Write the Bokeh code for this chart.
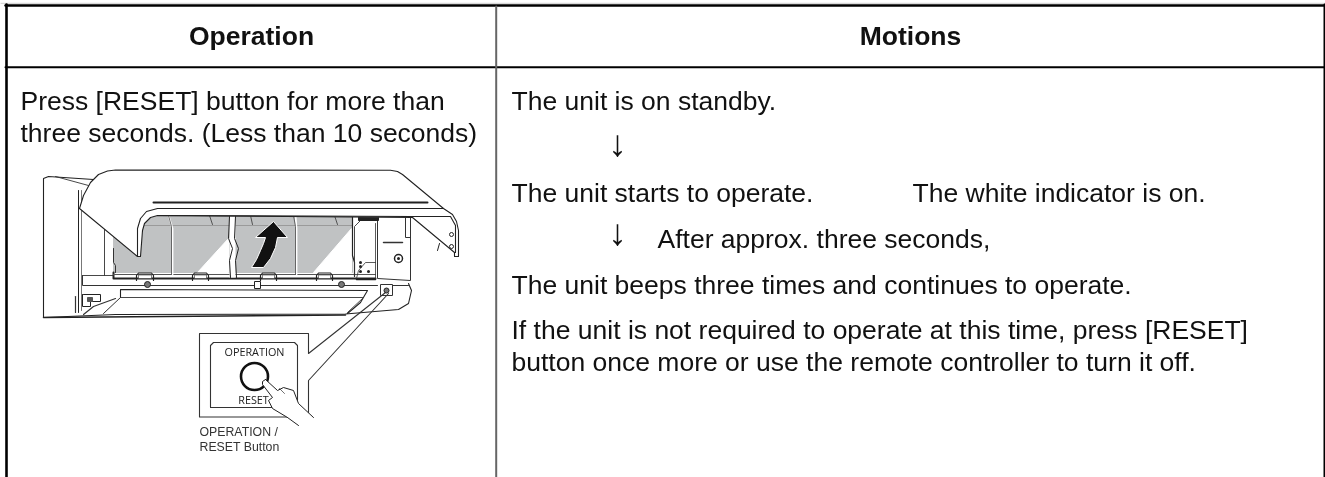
from bokeh.plotting import figure
from bokeh.models import Range1d
from bokeh.core.properties import value
from bokeh.embed import file_html
from bokeh.resources import INLINE

# ---------- table content ----------
header_labels = ["Operation", "Motions"]
operation_lines = ["Press [RESET] button for more than", "three seconds. (Less than 10 seconds)"]
motion_lines = [
    "The unit is on standby.",
    "The unit starts to operate.",
    "The white indicator is on.",
    "After approx. three seconds,",
    "The unit beeps three times and continues to operate.",
    "If the unit is not required to operate at this time, press [RESET]",
    "button once more or use the remote controller to turn it off.",
]
down_arrow = "\u2193"
caption_lines = ["OPERATION /", "RESET Button"]
panel_labels = ["OPERATION", "RESET"]

W, H = 1325, 477
p = figure(width=W, height=H, x_range=Range1d(0, W), y_range=Range1d(H, 0),
           output_backend="svg", toolbar_location=None, min_border=0,
           outline_line_color=None, background_fill_color="white",
           border_fill_color="white", x_axis_type=None, y_axis_type=None)
p.grid.visible = False
p.stylesheets = [":host{position:fixed !important;left:0;top:0;}"]

FONT = value("Liberation Sans")
INK = "#111111"
BODY = 26.5

def line(pts, color="#2a2a2a", w=1.0):
    p.line([a for a, _ in pts], [b for _, b in pts], line_color=color, line_width=w, line_join="round", line_cap="round")

def fill(pts, color, outline=None, w=1.0):
    p.patch([a for a, _ in pts], [b for _, b in pts], fill_color=color,
            line_color=outline if outline else color, line_width=w, line_join="round")

def txt(x, y, s, size=BODY, style="normal", align="left", color=INK, font=FONT):
    # the page draws this baseline about 0.36 em lower than the requested y
    p.text([x], [y - 0.36 * size], text=[s], text_font=font, text_font_size=f"{size}px", text_font_style=style,
           text_align=align, text_baseline="alphabetic", text_color=color)

# ---------- table rules ----------
line([(0, 2.8), (W, 2.8)], "#d0d0d0", 1)
line([(5, 5), (W, 5)], "#000000", 2.4)
line([(6, 4), (6, H)], "#000000", 2.6)
line([(1324, 4), (1324, H)], "#000000", 2)
line([(5, 66.7), (W, 66.7)], "#000000", 2)
line([(495.7, 6), (495.7, H)], "#666666", 2)

# ---------- table text ----------
txt(251, 45, header_labels[0], style="bold", align="center")
txt(910, 45, header_labels[1], style="bold", align="center")
txt(20, 110, operation_lines[0])
txt(20, 142, operation_lines[1])
txt(511, 110, motion_lines[0])
txt(511, 202.5, motion_lines[1])
txt(912, 202.5, motion_lines[2])
txt(657, 248, motion_lines[3])
txt(511, 294, motion_lines[4])
txt(511, 339, motion_lines[5])
txt(511, 371, motion_lines[6])
for y in (156.3, 245.3):
    txt(617, y, down_arrow, size=37, align="center")

# ---------- illustration: filters ----------
GREY = "#c0c2c3"
fill([(113, 215), (229, 215), (229, 272), (113, 272)], GREY)
fill([(235, 215), (352, 215), (352, 272), (235, 272)], GREY)
fill([(197, 272), (228, 238), (228, 272)], "white")
fill([(313, 272), (351, 228), (351, 272)], "white")
line([(113, 225), (352, 225)], "#9a9a9a", 1)
line([(113, 272), (113, 278), (375, 278)], "#222222", 2)
line([(113, 274), (375, 274)], "#555555", 1)
line([(168, 215), (172, 228), (172, 274)], "white", 1.8)
line([(295, 215), (296, 228), (296, 274)], "white", 1.8)
line([(168, 215), (171, 226), (171, 274)], "#333333", .7)
line([(293, 215), (295, 226), (295, 274)], "#333333", .7)
line([(209, 215), (212, 224)], "#444444", .9)
line([(250, 215), (252, 224)], "#444444", .9)
line([(334, 215), (337, 224)], "#444444", .9)
line([(113, 248), (113, 262), (115, 265), (115, 272)], "#333333", 1)

# centre divider
fill([(229, 215), (235, 215), (235, 277), (229, 277)], "white", None, 0)
for dx in (0, 6):
    line([(229 + dx, 216), (228 + dx, 238), (232 + dx, 248), (229 + dx, 260), (230 + dx, 277)], "#222222", 1)
line([(352, 216), (352, 255), (354, 262), (354, 276)], "#222222", 1.2)

# tabs along the filter bottom
for x0, x1 in ((136, 153), (192, 208), (260, 276), (316, 332)):
    line([(x0, 280), (x0, 275), (x0 + 2, 272.5), (x1 - 2, 272.5), (x1, 275), (x1, 280)], "#222222", 1.2)
    fill([(x0 + 2, 274.5), (x1 - 2, 274.5), (x1 - 2, 278), (x0 + 2, 278)], "white", "#333333", .6)

# ---------- illustration: unit body ----------
line([(93, 179), (48, 176), (43, 178), (43, 317), (115, 314), (345, 313.5), (398, 309), (408, 303), (411, 290), (408, 283)], "#222222", 1.1)
line([(43, 317), (345, 314.5)], "#222222", 1.5)
line([(78, 190), (78, 312)], "#222222", 1.0)
line([(81, 190), (81, 310)], "#555555", .8)
line([(55, 176), (88, 185)], "#333333", .9)
line([(104, 225), (104, 275)], "#333333", .9)
line([(82, 275), (113, 275)], "#333333", .9)
line([(82, 275), (82, 285), (377, 285)], "#333333", 1)
line([(120, 297), (120, 289), (367, 290), (360, 302), (347, 313)], "#222222", 1.1)
line([(120, 297), (362, 297)], "#333333", .9)
line([(120, 297), (103, 313)], "#333333", 1)
line([(115, 298), (93, 306), (83, 314)], "#333333", 1.2)
line([(362, 298), (347, 312)], "#333333", .9)
line([(75, 296), (75, 312)], "#333333", 1.2)
line([(83, 294), (100, 294), (100, 301), (90, 301), (90, 306), (82, 306), (82, 294)], "#222222", 1)
fill([(87, 297), (92, 297), (92, 301), (87, 301)], "#555555")
# screws
for x in (147, 341):
    p.scatter([x], [284], size=6, marker="circle", fill_color="#777777", line_color="#222222", line_width=1)
fill([(254, 281), (260, 281), (260, 288), (254, 288)], "white", "#222222", 1)

# right-hand section
line([(377, 217), (377, 278), (410, 280), (410, 217)], "#333333", 1)
line([(405, 217), (405, 237), (410, 237)], "#333333", 1)
line([(375, 217), (360, 220), (354, 226), (354, 276)], "#333333", .9)
fill([(358, 215), (378, 215), (378, 220), (358, 220)], "#222222")
line([(375, 223), (375, 278)], "#333333", .8)
line([(375, 262), (365, 262), (358, 270), (356, 278)], "#333333", .8)
line([(383, 242), (402, 242)], "#333333", 1.5)
p.scatter([398], [258], size=8, marker="circle", fill_color="white", line_color="#222222", line_width=1.5)
p.scatter([398], [258], size=3, marker="circle", fill_color="#222222", line_color=None)
for x, y in ((360, 262), (360, 271), (368, 271), (360, 266)):
    p.scatter([x], [y], size=3, marker="circle", fill_color="#222222", line_color=None)
line([(356, 279), (375, 279)], "#222222", 1.5)
fill([(380, 284), (392, 284), (392, 295), (380, 295)], "white", "#333333", 1)
p.scatter([386], [290], size=5, marker="circle", fill_color="#777777", line_color="#222222", line_width=1)
line([(392, 285), (408, 285)], "#333333", 1)

# ---------- illustration: cover ----------
cover = [(137, 256), (79, 208), (83, 195), (90, 182), (98, 174), (107, 170.5), (115, 169.5), (390, 169.7),
         (397, 171), (402, 174), (443, 208), (452, 214), (456, 221), (458, 230), (458, 256), (454, 256),
         (454, 252), (412, 217), (157, 215), (150, 217), (144, 223), (142, 230), (140, 256)]
fill(cover, "white", "#222222", 1.1)
line([(137, 256), (137, 228), (140, 218), (146, 211), (157, 208), (443, 208)], "#222222", 1.1)
line([(157, 215), (412, 216), (450, 216), (455, 225), (455, 252)], "#222222", 1.1)
line([(153, 202), (427, 202)], "#222222", 2)
line([(437, 250), (439, 243)], "#222222", 1)
p.scatter([451, 451], [234, 246], size=4, marker="circle", fill_color="white", line_color="#222222", line_width=1)

# arrow
fill([(273, 221), (287, 237), (277, 237), (275, 247), (270, 258), (263, 267), (251, 267), (256, 259), (260, 250), (263, 243), (265, 237), (255, 237)],
     "#111111", "white", 1)

# ---------- illustration: call-out ----------
line([(385, 292), (308, 353), (308, 333), (199, 333), (199, 416.5), (290, 416.5)], "#333333", 1.1)
line([(388, 293), (308, 380), (308, 416)], "#333333", 1.1)
line([(297, 400), (297, 345), (294, 342), (213, 342), (210, 345), (210, 407), (272, 407)], "#333333", 1.1)
txt(254, 355, panel_labels[0], size=10.8, align="center", color="#222222", font=value("Open Sans"))
p.circle([254], [376], radius=13.5, fill_color="white", line_color="#111111", line_width=2.6)

hand = [(265, 379), (277, 390), (283, 387), (293, 390), (298, 403), (313, 417), (313, 430), (298, 425),
        (287, 417), (272, 408), (268, 400), (272, 397), (262, 384), (262, 381)]
hand_fill = hand[:6] + [(298, 425)] + hand[8:]
p.patch([a for a, _ in hand_fill], [b for _, b in hand_fill], fill_color="white", line_color=None)
txt(253, 403, panel_labels[1], size=10.8, align="center", color="#222222", font=value("Open Sans"))
line(hand[:6], "#222222", 1)
line(hand[8:] + [hand[0]], "#222222", 1)
line([(298, 425), (287, 417)], "#222222", 1)
line([(279, 388), (284, 393)], "#333333", .7)

txt(199, 436, caption_lines[0], size=12.3, color="#333333")
txt(199, 451, caption_lines[1], size=12.3, color="#333333")

open("out.html", "w").write(file_html(p, INLINE))
